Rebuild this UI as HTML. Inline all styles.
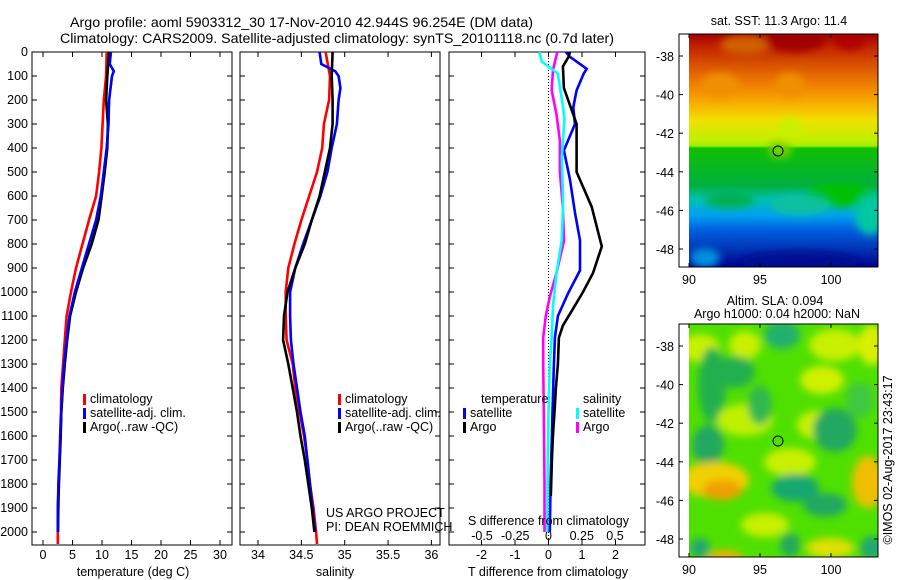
<!DOCTYPE html>
<html><head><meta charset="utf-8">
<style>
html,body{margin:0;padding:0;background:#fff;}
svg{display:block;font-family:"Liberation Sans",sans-serif;}
text{font-size:12.5px;fill:#000;}
</style></head>
<body>
<svg id="chart" width="900" height="580" viewBox="0 0 900 580">
<defs>
<linearGradient id="sstGrad" x1="0" y1="0" x2="0" y2="1">
<stop offset="0" stop-color="#a00000"/>
<stop offset="0.05" stop-color="#c02000"/>
<stop offset="0.13" stop-color="#d85000"/>
<stop offset="0.22" stop-color="#f08000"/>
<stop offset="0.30" stop-color="#f8b000"/>
<stop offset="0.37" stop-color="#f0e000"/>
<stop offset="0.455" stop-color="#c0f000"/>
<stop offset="0.48" stop-color="#a0f000"/>
<stop offset="0.49" stop-color="#10c000"/>
<stop offset="0.65" stop-color="#00b040"/>
<stop offset="0.71" stop-color="#00c0b0"/>
<stop offset="0.78" stop-color="#00a0f0"/>
<stop offset="0.84" stop-color="#0060e0"/>
<stop offset="0.93" stop-color="#0030b0"/>
<stop offset="1" stop-color="#000090"/>
</linearGradient>
<filter id="blur" x="-50%" y="-50%" width="200%" height="200%"><feGaussianBlur stdDeviation="4"/></filter>
<clipPath id="clip1"><rect x="689" y="34" width="189" height="233"/></clipPath>
<clipPath id="clip2"><rect x="689" y="324" width="189" height="233"/></clipPath>
</defs>
<text x="70" y="27" textLength="463" lengthAdjust="spacingAndGlyphs" style="font-size:14px">Argo profile: aoml 5903312_30 17-Nov-2010 42.944S 96.254E (DM data)</text>
<text x="60" y="43" textLength="554" lengthAdjust="spacingAndGlyphs" style="font-size:14px">Climatology: CARS2009. Satellite-adjusted climatology: synTS_20101118.nc (0.7d later)</text>
<g id="plots"></g>
<g id="maps"></g>
</svg>
<script>
// ---- data (depth in m) ----
const depths = [0,100,200,300,400,500,600,700,800,900,1000,1100,1200,1300,1400,1500,1600,1700,1800,1900,2000,2050];
const tempClim = [10.8,10.7,10.3,10.1,9.9,9.5,9.0,7.8,6.7,5.6,4.75,4.0,3.7,3.4,3.1,3.05,2.9,2.8,2.6,2.55,2.5,2.5];
const tempSatDepths = [0,50,80,100,200,300,400,500,600,700,800,900,1000,1100,1200,1300,1400,1500,1600,1700,1800,1900,2000];
const tempSat = [11.5,11.3,12.0,11.7,11.2,11.1,10.8,10.3,9.8,9.0,7.8,6.6,5.4,4.5,4.0,3.6,3.3,3.1,2.95,2.8,2.65,2.5,2.5];
const tempArgoDepths = [0,100,200,300,400,500,600,700,800,900,1000,1100,1200,1300,1400,1500,1600,1700,1800,1900,2000];
const tempArgo = [11.2,10.9,10.7,11.0,10.9,10.45,9.95,9.4,8.25,6.8,5.6,4.6,4.1,3.7,3.35,3.1,3.0,2.85,2.7,2.6,2.55];
const salClim = [34.78,34.83,34.82,34.76,34.74,34.68,34.59,34.50,34.42,34.35,34.32,34.32,34.33,34.40,34.43,34.48,34.53,34.57,34.60,34.64,34.67,34.68];
const salSatDepths = [0,50,80,100,150,200,300,400,500,600,700,800,900,1000,1100,1200,1300,1400,1500,1600,1700,1800,1900,2000];
const salSat = [34.71,34.73,34.89,34.93,34.95,34.93,34.91,34.85,34.80,34.72,34.62,34.52,34.43,34.37,34.37,34.38,34.41,34.45,34.49,34.54,34.57,34.60,34.63,34.66];
const salArgo = [34.86,34.85,34.86,34.86,34.83,34.77,34.71,34.62,34.54,34.43,34.34,34.30,34.29,34.35,34.40,34.45,34.49,34.54,34.58,34.62,34.65];
const diffDepthsA = [0,20,70,90,160,230,300,410,530,670,785,910,1007,1100,1190,1300,1400,1500,1600,1700,1800,1900,2000];
const dTSat = [0.52,0.64,1.14,1.05,0.84,0.74,0.79,0.46,0.64,0.79,0.94,0.94,0.58,0.28,0.19,0.16,0.14,0.12,0.1,0.08,0.06,0.05,0.04];
const diffDepthsB = [0,20,60,150,300,370,500,645,810,920,1000,1070,1140,1190,1300,1400,1500,1600,1700,1800,1850];
const dTArgo = [0.64,0.6,0.43,0.46,0.84,0.84,0.84,1.29,1.59,1.33,1.03,0.73,0.43,0.31,0.28,0.22,0.18,0.13,0.1,0.08,0.07];
const diffDepthsC = [0,40,75,90,230,280,440,620,785,920,1060,1190,1300,1500,1700,2000];
const dSSat = [-0.07,-0.05,0.034,0.07,0.11,0.12,0.10,0.11,0.10,0.06,0.034,0.024,0.01,0.0,-0.005,-0.01];
const diffDepthsD = [0,75,160,260,370,500,640,785,920,1020,1100,1190,1300,1500,1800,2000];
const dSArgo = [0.066,0.034,0.024,0.06,0.086,0.086,0.107,0.117,0.06,0.01,-0.02,-0.04,-0.04,-0.035,-0.03,-0.03];
const depthTicks = [0,100,200,300,400,500,600,700,800,900,1000,1100,1200,1300,1400,1500,1600,1700,1800,1900,2000];
const tempTicks = [0,5,10,15,20,25,30];
const salTicks = [34,34.5,35,35.5,36];
const salTickLabels = ["34","34.5","35","35.5","36"];
const dTTicks = [-2,-1,0,1,2];
const dSTicks = [-0.5,-0.25,0,0.25,0.5];
const dSTickLabels = ["-0.5","-0.25","0","0.25","0.5"];
const lonTicks = [90,95,100];
const latTicks = [-38,-40,-42,-44,-46,-48];

const NS = "http://www.w3.org/2000/svg";
const plots = document.getElementById('plots');
const maps = document.getElementById('maps');
function mk(tag, attrs, parent, txt){
  const e = document.createElementNS(NS, tag);
  for (const k in attrs) e.setAttribute(k, attrs[k]);
  if (txt !== undefined) e.textContent = txt;
  (parent||plots).appendChild(e);
  return e;
}
const yTop = 52, yBot = 545;
const yD = d => yTop + d*0.24;
const xT = t => 43 + t*5.9;
const xS = s => 258 + (s-34)*86.7;
const xDT = v => 548.5 + v*33.5;
const xDS = v => 548.5 + v*133;

function frame(x0, x1, name){
  const r = mk('rect',{x:x0,y:yTop,width:x1-x0,height:yBot-yTop,fill:'none',stroke:'#000','stroke-width':1});
  
  
  depthTicks.forEach(d=>{
    mk('line',{x1:x0,x2:x0+5,y1:yD(d),y2:yD(d),stroke:'#000'});
    mk('line',{x1:x1,x2:x1-5,y1:yD(d),y2:yD(d),stroke:'#000'});
  });
}
function xTicks(vals, fx, labels, yLab){
  vals.forEach((v,i)=>{
    mk('line',{x1:fx(v),x2:fx(v),y1:yTop,y2:yTop+5,stroke:'#000'});
    mk('line',{x1:fx(v),x2:fx(v),y1:yBot,y2:yBot-5,stroke:'#000'});
    const t = mk('text',{x:fx(v),y:yLab,'text-anchor':'middle'},plots,labels[i]);
    
    
  });
}
function line(xs, ds, fx, color, name, w){
  const pts = xs.map((v,i)=>fx(v).toFixed(1)+','+yD(ds[i]).toFixed(1)).join(' ');
  const p = mk('polyline',{points:pts,fill:'none',stroke:color,'stroke-width':w||2.6,'stroke-linejoin':'miter'});
  
  
}
function legend(mx, y, color, label){
  mk('rect',{x:mx,y:y-9,width:3,height:11,fill:color});
  const t = mk('text',{x:mx+7,y:y},plots,label);
  
  
}

// panel 1 temperature
frame(32, 232, 'temperature-panel');
depthTicks.forEach(d=>{
  const t = mk('text',{x:28,y:yD(d)+4,'text-anchor':'end'},plots,String(d));
  
  
});
xTicks(tempTicks, xT, tempTicks.map(String), 559);
line(tempClim, depths, xT, '#f00', 'temp-climatology-line');
line(tempSat, tempSatDepths, xT, '#00f', 'temp-satellite-line');
line(tempArgo, tempArgoDepths, xT, '#000', 'temp-argo-line');
line(tempSat, tempSatDepths, xT, '#00f', 'temp-satellite-line-top', 2.2);
legend(83, 403, '#f00', 'climatology');
legend(83, 417, '#00f', 'satellite-adj. clim.');
legend(83, 431, '#000', 'Argo(..raw -QC)');
let t1 = mk('text',{x:133,y:576,'text-anchor':'middle'},plots,'temperature (deg C)');



// panel 2 salinity
frame(240, 440, 'salinity-panel');
xTicks(salTicks, xS, salTickLabels, 559);
line(salClim, depths, xS, '#f00', 'sal-climatology-line');
line(salSat, salSatDepths, xS, '#00f', 'sal-satellite-line');
line(salArgo, tempArgoDepths, xS, '#000', 'sal-argo-line');
legend(338, 403, '#f00', 'climatology');
legend(338, 417, '#00f', 'satellite-adj. clim.');
legend(338, 431, '#000', 'Argo(..raw -QC)');
let t2 = mk('text',{x:335,y:576,'text-anchor':'middle'},plots,'salinity');


let u1 = mk('text',{x:326,y:517},plots,'US ARGO PROJECT');


let u2 = mk('text',{x:326,y:531},plots,'PI: DEAN ROEMMICH');



// panel 3 differences
frame(449, 645, 'difference-panel');
mk('line',{x1:548.5,x2:548.5,y1:yTop,y2:yBot,stroke:'#000','stroke-dasharray':'1,2'});
xTicks(dTTicks, xDT, dTTicks.map(String), 559);
dSTicks.forEach((v,i)=>{
  const t = mk('text',{x:xDS(v),y:540,'text-anchor':'middle'},plots,dSTickLabels[i]);
  
  
});
line(dSArgo, diffDepthsD, xDS, '#f0f', 'sal-argo-diff-line');
line(dTSat, diffDepthsA, xDT, '#00f', 'temp-satellite-diff-line');
line(dTArgo, diffDepthsB, xDT, '#000', 'temp-argo-diff-line');
line(dSSat, diffDepthsC, xDS, '#0ff', 'sal-satellite-diff-line');
let h1 = mk('text',{x:481,y:403},plots,'temperature');


let h2 = mk('text',{x:583,y:403},plots,'salinity');


legend(463, 417, '#00f', 'satellite');
legend(463, 431, '#000', 'Argo');
legend(576, 417, '#0ff', 'satellite');
legend(576, 431, '#f0f', 'Argo');
let s1 = mk('text',{x:468,y:525},plots,'S difference from climatology');


let s2 = mk('text',{x:548,y:576,'text-anchor':'middle'},plots,'T difference from climatology');



// ---- maps ----
const xLon = lon => 689 + (lon-90)*14.2;
const yLat = (lat, off) => 56 + off + (-38-lat)*19.3;
function mapFrame(off, name){
  const r = mk('rect',{x:679,y:34+off,width:199,height:233,fill:'none',stroke:'#000'},maps);
  
  
  lonTicks.forEach(l=>{
    mk('line',{x1:xLon(l),x2:xLon(l),y1:34+off,y2:38+off,stroke:'#000'},maps);
    mk('line',{x1:xLon(l),x2:xLon(l),y1:267+off,y2:263+off,stroke:'#000'},maps);
    const t = mk('text',{x:xLon(l),y:284+off,'text-anchor':'middle'},maps,String(l));
    
    
  });
  latTicks.forEach(l=>{
    mk('line',{x1:679,x2:683,y1:yLat(l,off),y2:yLat(l,off),stroke:'#000'},maps);
    mk('line',{x1:878,x2:874,y1:yLat(l,off),y2:yLat(l,off),stroke:'#000'},maps);
    const t = mk('text',{x:674,y:yLat(l,off)+5,'text-anchor':'end'},maps,String(l));
    
    
  });
}
// SST map
const g1 = mk('g',{'clip-path':'url(#clip1)'},maps);


mk('rect',{x:689,y:34,width:189,height:233,fill:'url(#sstGrad)'},g1);
const gb1 = mk('g',{filter:'url(#blur)'},g1);
[[745,45,25,10,'#d06000'],[795,40,30,12,'#a00000'],[850,40,15,10,'#b00000'],[720,85,20,12,'#f09000'],
 [790,85,15,12,'#f09000'],[790,130,12,12,'#c8f000'],[780,150,12,8,'#70d000'],[840,195,35,12,'#00c000'],[800,205,30,10,'#10c0a0'],
 [730,200,25,8,'#00b050'],[870,215,15,20,'#00c8a0'],[705,258,15,10,'#0090e0'],[800,262,60,10,'#000a90']].forEach(b=>{
  mk('ellipse',{cx:b[0],cy:b[1],rx:b[2],ry:b[3],fill:b[4]},gb1);
});
mapFrame(0, 'sst-map-frame');
let c1 = mk('circle',{cx:778,cy:151,r:5,fill:'none',stroke:'#000'},maps);


let mt1 = mk('text',{x:779,y:25,'text-anchor':'middle'},maps,'sat. SST: 11.3 Argo: 11.4');



// SLA map
const g2 = mk('g',{'clip-path':'url(#clip2)'},maps);


mk('rect',{x:689,y:324,width:189,height:233,fill:'#50e000'},g2);
const gb2 = mk('g',{filter:'url(#blur)'},g2);
[[700,348,20,14,'#c8f000'],[745,345,16,14,'#c8f000'],[835,345,26,16,'#c8f000'],[872,345,14,20,'#d8f000'],
 [712,385,14,38,'#20b050'],[735,372,20,16,'#20b050'],[782,335,18,14,'#20b070'],[822,380,22,14,'#d0f000'],
 [745,420,28,16,'#c0f000'],[815,425,18,14,'#c8f000'],[708,445,16,20,'#20a860'],[835,430,22,22,'#20a860'],
 [790,462,26,14,'#c8f000'],[715,480,34,18,'#f0d000'],[722,490,20,10,'#f0a000'],[868,482,16,26,'#f0c000'],
 [795,488,24,14,'#18a870'],[825,505,22,12,'#20a860'],[765,525,24,12,'#c8f000'],[700,548,10,10,'#20a870'],
 [725,560,18,10,'#f0b000'],[830,548,24,10,'#e0e000'],[872,548,12,12,'#20a870'],[790,545,10,12,'#20a860'],
 [760,405,12,20,'#30b850'],[860,400,14,18,'#40c840']].forEach(b=>{
  mk('ellipse',{cx:b[0],cy:b[1],rx:b[2],ry:b[3],fill:b[4]},gb2);
});
mapFrame(290, 'sla-map-frame');
let c2 = mk('circle',{cx:778,cy:441,r:5,fill:'none',stroke:'#000'},maps);


let mt2 = mk('text',{x:775,y:305,'text-anchor':'middle'},maps,'Altim. SLA: 0.094');


let mt3 = mk('text',{x:777,y:318,'text-anchor':'middle'},maps,'Argo h1000: 0.04 h2000: NaN');


let cr = mk('text',{x:0,y:0,'text-anchor':'middle',transform:'translate(892,460) rotate(-90)'},maps,'©IMOS 02-Aug-2017 23:43:17');


</script>
</body></html>
